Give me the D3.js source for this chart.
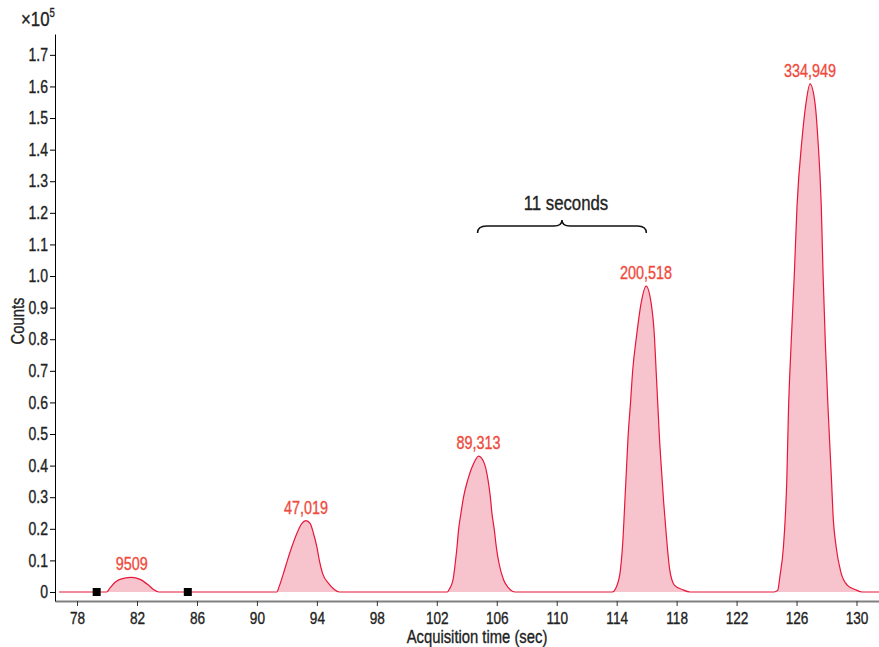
<!DOCTYPE html>
<html lang="en">

<head>
    <meta charset="UTF-8" />
    <script src="https://d3js.org/d3.v7.min.js"></script>
    <title>Chromatogram</title>
    <style>
        body { margin: 0; background: #fff; }
        text { font-family: "Liberation Sans", Arial, sans-serif; stroke-width: 0.35px; paint-order: stroke; }
    </style>
</head>

<body>
    <script>
        const width = 879,
            height = 647

        // data: [time (sec), counts x10^5]
        const peak1 = [[79.98, 0], [80.2, 0.013], [80.54, 0.031], [81.09, 0.043], [81.65, 0.046], [82.2, 0.040], [82.76, 0.022], [83.1, 0.008], [83.45, 0]]
        const peak2 = [[91.33, 0], [91.48, 0.017], [91.77, 0.059], [92.04, 0.101], [92.33, 0.143], [92.67, 0.186], [93.0, 0.217], [93.27, 0.226],
            [93.55, 0.217], [93.77, 0.186], [94.0, 0.143], [94.16, 0.101], [94.38, 0.059], [94.78, 0.027], [95.16, 0.008], [95.5, 0]]
        const peak3 = [[102.7, 0], [102.85, 0.010], [103.08, 0.038], [103.23, 0.091], [103.35, 0.143], [103.45, 0.196], [103.61, 0.249], [103.79, 0.302],
            [104.06, 0.354], [104.46, 0.407], [104.79, 0.430], [105.17, 0.407], [105.42, 0.354], [105.57, 0.302], [105.68, 0.249], [105.84, 0.196],
            [105.97, 0.143], [106.15, 0.091], [106.46, 0.038], [106.79, 0.013], [107.24, 0]]
        const peak4 = [[113.7, 0], [114.03, 0.022], [114.25, 0.070], [114.43, 0.175], [114.54, 0.281], [114.65, 0.386], [114.76, 0.491], [114.92, 0.597],
            [115.07, 0.702], [115.32, 0.808], [115.63, 0.914], [115.96, 0.968], [116.30, 0.914], [116.52, 0.808], [116.63, 0.702], [116.74, 0.597],
            [116.85, 0.491], [116.99, 0.386], [117.14, 0.281], [117.32, 0.175], [117.54, 0.070], [117.85, 0.022], [118.37, 0.008], [118.9, 0]]
        const peak5 = [[124.5, 0], [124.74, 0.005], [124.90, 0.053], [125.12, 0.140], [125.26, 0.248], [125.35, 0.356], [125.46, 0.572], [125.64, 0.788],
            [125.85, 1.004], [126.03, 1.220], [126.37, 1.436], [126.62, 1.544], [126.9, 1.608], [127.24, 1.544], [127.42, 1.436], [127.65, 1.220],
            [127.77, 1.004], [127.92, 0.788], [128.11, 0.572], [128.33, 0.356], [128.43, 0.248], [128.65, 0.140], [128.95, 0.064], [129.40, 0.021],
            [129.9, 0.008], [130.4, 0]]
        const peakLabels = ['9509', '47,019', '89,313', '200,518', '334,949']
        const markerTimes = [79.31, 85.39]
        const traceRange = [76.8, 131.5]
        const xTicks = [78, 82, 86, 90, 94, 98, 102, 106, 110, 114, 118, 122, 126, 130]
        const yTicks = [0, 0.1, 0.2, 0.3, 0.4, 0.5, 0.6, 0.7, 0.8, 0.9, 1.0, 1.1, 1.2, 1.3, 1.4, 1.5, 1.6, 1.7]
        const bracketTimes = [104.72, 115.98]
        const bracketLevel = 1.158
        const bracketText = '11 seconds'

        const narrow = 0.8 // horizontal squeeze to get a condensed face

        const peaks = [peak1, peak2, peak3, peak4, peak5]
        const trace = [[traceRange[0], 0]].concat(...peaks, [[traceRange[1], 0]])

        const svg = d3.select('body').append('svg').attr('width', width).attr('height', height)

        const x = d3.scaleLinear().domain([76.53, 131.5]).range([55, 879])
        const y = d3.scaleLinear().domain([-0.0285, 1.766]).range([601, 34])

        function label(px, py, str, size, opts = {}) {
            const fill = opts.fill || '#222'
            return svg.append('text')
                .attr('transform', `translate(${px},${py})${opts.rotate ? ' rotate(' + opts.rotate + ')' : ''} scale(${narrow},1)`)
                .attr('text-anchor', opts.anchor || 'middle')
                .attr('font-size', size)
                .attr('fill', fill)
                .attr('stroke', fill)
                .text(str)
        }

        // peaks fill
        const area = d3.area().x(d => x(d[0])).y0(y(0)).y1(d => y(d[1])).curve(d3.curveMonotoneX)
        svg.selectAll('path.peak').data(peaks).enter()
            .append('path')
            .attr('class', 'peak')
            .attr('d', area)
            .attr('fill', '#f7c4cd')

        // trace line
        const line = d3.line().x(d => x(d[0])).y(d => y(d[1])).curve(d3.curveMonotoneX)
        svg.append('path')
            .attr('d', line(trace))
            .attr('fill', 'none')
            .attr('stroke', '#e8163a')
            .attr('stroke-width', 1.2)

        // markers
        svg.selectAll('rect.marker').data(markerTimes).enter()
            .append('rect')
            .attr('x', d => x(d) - 4)
            .attr('y', y(0) - 4)
            .attr('width', 8)
            .attr('height', 8)
            .attr('fill', '#000')

        // peak labels
        peaks.forEach((p, i) => {
            const top = d3.greatest(p, d => d[1])
            label(x(top[0]), y(top[1]) - 7, peakLabels[i], 18, { fill: '#f04a3c' })
        })

        // axes
        const xAxis = d3.axisBottom(x).tickValues(xTicks).tickSize(5).tickSizeOuter(0)
        const gx = svg.append('g').attr('transform', `translate(0,${y.range()[0]})`).call(xAxis)
        gx.select('.domain').attr('stroke', '#808080').attr('stroke-width', 2)
        gx.selectAll('.tick line').attr('stroke', '#333')
        gx.selectAll('.tick text').attr('font-size', 17).attr('fill', '#222').attr('stroke', '#222').attr('dy', '0.86em')
            .attr('transform', `scale(${narrow},1)`)

        const yAxis = d3.axisLeft(y).tickValues(yTicks).tickSize(5).tickSizeOuter(0)
            .tickFormat(d => d === 0 ? '0' : d3.format('.1f')(d))
        const gy = svg.append('g').attr('transform', `translate(${x.range()[0]},0)`).call(yAxis)
        gy.select('.domain').attr('stroke', '#000')
        gy.selectAll('.tick text').attr('font-size', 17.5).attr('fill', '#222').attr('stroke', '#222').attr('x', -7 / narrow)
            .attr('transform', `scale(${narrow},1)`)

        // axis titles
        label(477, 643, 'Acquisition time (sec)', 18.5)
        label(24, 321, 'Counts', 18.5, { rotate: -90 })

        const exp = label(21, 26, '×10', 21, { anchor: 'start' })
        exp.append('tspan').attr('dy', -9).attr('font-size', 12).text('5')

        // bracket annotation
        const bx0 = x(bracketTimes[0]), bx1 = x(bracketTimes[1]), bm = (bx0 + bx1) / 2
        const by = y(bracketLevel)
        const brace = d3.path()
        brace.moveTo(bx0, by + 7)
        brace.quadraticCurveTo(bx0, by, bx0 + 9, by)
        brace.lineTo(bm - 8, by)
        brace.quadraticCurveTo(bm, by, bm, by - 6)
        brace.quadraticCurveTo(bm, by, bm + 8, by)
        brace.lineTo(bx1 - 9, by)
        brace.quadraticCurveTo(bx1, by, bx1, by + 7)
        svg.append('path')
            .attr('d', brace.toString())
            .attr('fill', 'none')
            .attr('stroke', '#111')
            .attr('stroke-width', 1.5)

        label(bm + 4, by - 16, bracketText, 21)
    </script>
</body>

</html>
